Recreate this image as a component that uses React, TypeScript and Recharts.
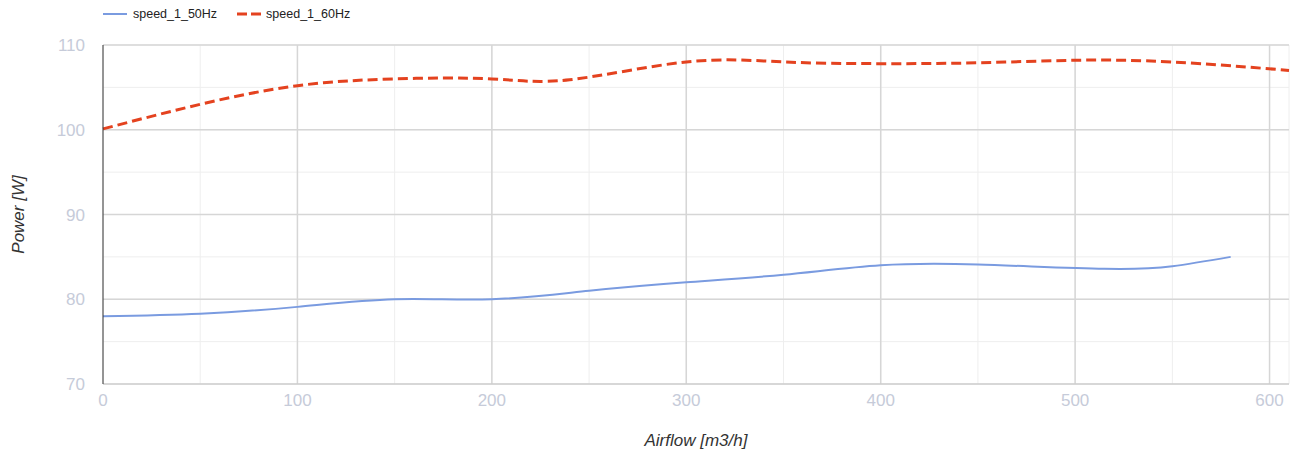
import { LineChart, Line, XAxis, YAxis, CartesianGrid, ReferenceLine, Label } from "recharts";

// airflow [m3/h] -> power [W]
const airflow50 = [0, 50, 100, 150, 200, 250, 300, 350, 400, 450, 515, 550, 580];
const power50 = [78, 78.3, 79.1, 80, 80, 81, 82, 82.9, 84, 84.1, 83.6, 83.9, 85];

const airflow60 = [0, 50, 100, 150, 200, 240, 300, 350, 400, 450, 500, 550, 610];
const power60 = [100.1, 103, 105.2, 106, 106, 105.9, 108, 108, 107.8, 107.9, 108.2, 108, 107];

const xTicks = [0, 50, 100, 150, 200, 250, 300, 350, 400, 450, 500, 550, 600];
const yTicks = [70, 75, 80, 85, 90, 95, 100, 105, 110];
const xMajor = [100, 200, 300, 400, 500, 600];
const yMajor = [80, 90, 100, 110];

const series50 = airflow50.map((x, i) => ({ x, y: power50[i] }));
const series60 = airflow60.map((x, i) => ({ x, y: power60[i] }));

const font = "Liberation Sans, Arial, sans-serif";
const tickStyle = { fill: "#c6cbd9", fontSize: 17, fontFamily: font };
const titleStyle = { fill: "#333", fontSize: 17, fontStyle: "italic", fontFamily: font };

function LegendBox() {
  return (
    <div style={{ position: "absolute", left: 103, top: 7, display: "flex", alignItems: "center", fontFamily: font, fontSize: 12.5, color: "#222" }}>
      <svg width={24} height={4} style={{ marginRight: 6 }}>
        <line x1={0} y1={2} x2={24} y2={2} stroke="#7a9be0" strokeWidth={2} />
      </svg>
      <span style={{ marginRight: 20 }}>speed_1_50Hz</span>
      <svg width={24} height={4} style={{ marginRight: 5 }}>
        <line x1={0} y1={2} x2={24} y2={2} stroke="#e4421f" strokeWidth={3} strokeDasharray="10 4" />
      </svg>
      <span>speed_1_60Hz</span>
    </div>
  );
}

export default function App() {
  return (
    <div style={{ position: "absolute", left: 0, top: 0, width: 1299, height: 460 }}>
      <LineChart width={1299} height={460} margin={{ top: 45, right: 10, left: 43, bottom: 46 }}>
        <CartesianGrid stroke="#eeeeee" strokeWidth={1} />
        {xMajor.map((v) => (
          <ReferenceLine key={"x" + v} x={v} stroke="#d6d6d6" strokeWidth={1.5} />
        ))}
        {yMajor.map((v) => (
          <ReferenceLine key={"y" + v} y={v} stroke="#d6d6d6" strokeWidth={1.5} />
        ))}
        <XAxis
          type="number"
          dataKey="x"
          domain={[0, 608]}
          ticks={xTicks}
          interval={0}
          tickFormatter={(v: number) => (v % 100 === 0 ? String(v) : "")}
          tick={tickStyle}
          tickSize={0}
          tickMargin={10}
          axisLine={{ stroke: "#cccccc", strokeWidth: 1.5 }}
          height={30}
          allowDuplicatedCategory={false}
        >
          <Label
            content={({ viewBox }: any) => (
              <text x={viewBox.x + viewBox.width / 2} y={446} textAnchor="middle" style={titleStyle}>
                Airflow [m3/h]
              </text>
            )}
          />
        </XAxis>
        <YAxis
          type="number"
          dataKey="y"
          domain={[70, 110]}
          ticks={yTicks}
          interval={0}
          tickFormatter={(v: number) => (v % 10 === 0 ? String(v) : "")}
          tick={tickStyle}
          tickSize={0}
          tickMargin={18}
          axisLine={{ stroke: "#333333", strokeWidth: 1 }}
          width={60}
        >
          <Label
            content={({ viewBox }: any) => {
              const cy = viewBox.y + viewBox.height / 2;
              return (
                <text x={24} y={cy} textAnchor="middle" transform={`rotate(-90, 24, ${cy})`} style={titleStyle}>
                  Power [W]
                </text>
              );
            }}
          />
        </YAxis>
        <Line
          data={series50}
          dataKey="y"
          type="natural"
          stroke="#7a9be0"
          strokeWidth={2}
          dot={false}
          isAnimationActive={false}
          name="speed_1_50Hz"
        />
        <Line
          data={series60}
          dataKey="y"
          type="natural"
          stroke="#e4421f"
          strokeWidth={3}
          strokeDasharray="10 5"
          dot={false}
          isAnimationActive={false}
          name="speed_1_60Hz"
        />
      </LineChart>
      <LegendBox />
    </div>
  );
}
